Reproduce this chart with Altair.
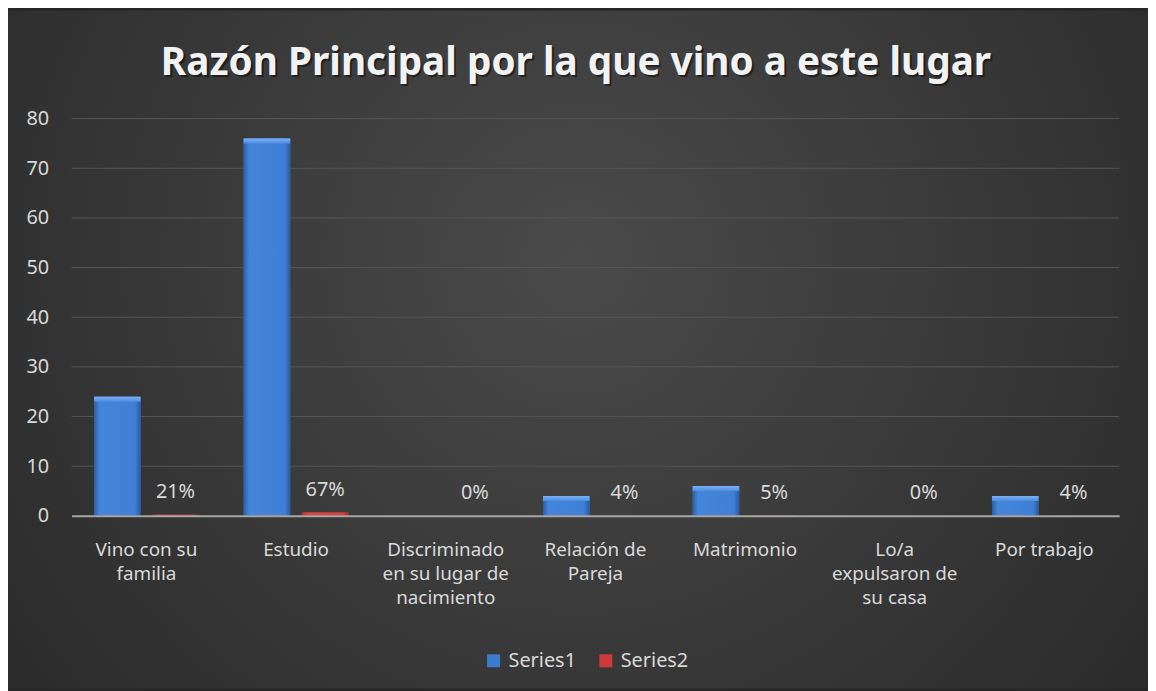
import altair as alt
import pandas as pd

# ---- data ----
categories = [
    "Vino con su\nfamilia",
    "Estudio",
    "Discriminado\nen su lugar de\nnacimiento",
    "Relación de\nPareja",
    "Matrimonio",
    "Lo/a\nexpulsaron de\nsu casa",
    "Por trabajo",
]
series_names = ["Series1", "Series2"]
series1 = [24, 76, 0, 4, 6, 0, 4]
series2 = [0.21, 0.67, 0, 0.04, 0.05, 0, 0.04]
y_ticks = [0, 10, 20, 30, 40, 50, 60, 70, 80]
grid_values = [10, 20, 30, 40, 50, 60, 70, 80]
title_text = "Razón Principal por la que vino a este  lugar"

rows = []
for c, v in zip(categories, series1):
    rows.append({"cat": c, "series": "Series1", "value": v})
for c, v in zip(categories, series2):
    rows.append({"cat": c, "series": "Series2", "value": v})
df = pd.DataFrame(rows)
grid_df = pd.DataFrame({"value": grid_values})
one = pd.DataFrame({"k": [0]})

W, H = 1055, 400
PAD = {"left": 64, "right": 29, "top": 109, "bottom": 174}
FONT = "Noto Sans"
TXT = "#d9d9d9"
FS = 20

x_scale = alt.Scale(domain=categories, paddingInner=0.3, paddingOuter=0.15)
off_scale = alt.Scale(domain=series_names, paddingInner=0.2)
y_scale = alt.Scale(domain=[0, 80])

x_axis = alt.Axis(
    title=None,
    labelAngle=0,
    ticks=False,
    domain=True,
    domainColor="#a6a6a6",
    domainWidth=2,
    labelColor=TXT,
    labelFont=FONT,
    labelFontSize=19,
    labelLineHeight=24,
    labelPadding=25,
    labelExpr="split(datum.value, '\\n')",
    labelLimit=200,
    grid=False,
    zindex=1,
)
y_axis = alt.Axis(
    title=None,
    values=y_ticks,
    domain=False,
    ticks=False,
    grid=False,
    labelColor=TXT,
    labelFont=FONT,
    labelFontSize=FS,
    labelPadding=23,
    zindex=1,
)
x_enc = alt.X("cat:N", scale=x_scale, sort=categories, axis=x_axis)
y_enc = alt.Y("value:Q", scale=y_scale, axis=y_axis)
off_enc = alt.XOffset("series:N", scale=off_scale)

bg_gradient = {
    "gradient": "radial",
    "x1": 0.5, "y1": 0.42, "x2": 0.5, "y2": 0.42,
    "r1": 0, "r2": 0.72,
    "stops": [
        {"offset": 0, "color": "#4a4a4a"},
        {"offset": 1, "color": "#262626"},
    ],
}
background = alt.Chart(one).mark_rect(fill=bg_gradient, clip=False).encode(
    x=alt.value(-PAD["left"]),
    x2=alt.value(W + PAD["right"]),
    y=alt.value(-PAD["top"]),
    y2=alt.value(H + PAD["bottom"]),
)

grid = alt.Chart(grid_df).mark_rule(color="#565656", strokeWidth=1).encode(
    y=y_enc,
    x=alt.value(0),
    x2=alt.value(W),
)

bars = alt.Chart(df).mark_bar().encode(
    x=x_enc,
    xOffset=off_enc,
    y=y_enc,
    color=alt.Color(
        "series:N",
        scale=alt.Scale(domain=series_names, range=["#3d7bd1", "#d0393a"]),
        legend=alt.Legend(
            title=None,
            orient="none",
            legendX=415,
            legendY=536,
            direction="horizontal",
            symbolType="square",
            symbolSize=170,
            symbolStrokeWidth=0,
            labelColor=TXT,
            labelFont=FONT,
            labelFontSize=FS,
            columnPadding=20,
            labelOffset=5,
        ),
    ),
)

blue_grad = {
    "gradient": "linear", "x1": 0, "y1": 0, "x2": 1, "y2": 0,
    "stops": [
        {"offset": 0, "color": "#2c5ea6"},
        {"offset": 0.12, "color": "#4385d9"},
        {"offset": 0.88, "color": "#3f80d6"},
        {"offset": 1, "color": "#2a5aa0"},
    ],
}
red_grad = {
    "gradient": "linear", "x1": 0, "y1": 0, "x2": 1, "y2": 0,
    "stops": [
        {"offset": 0, "color": "#a82e2e"},
        {"offset": 0.12, "color": "#dc4444"},
        {"offset": 0.88, "color": "#d84040"},
        {"offset": 1, "color": "#a02a2a"},
    ],
}

blue_bars = alt.Chart(df).transform_filter(alt.datum.series == "Series1").mark_bar(fill=blue_grad).encode(
    x=x_enc,
    xOffset=off_enc,
    y=y_enc,
)
red_bars = alt.Chart(df).transform_filter(alt.datum.series == "Series2").mark_bar(fill=red_grad).encode(
    x=x_enc,
    xOffset=off_enc,
    y=y_enc,
)

cap_grad = {
    "gradient": "linear", "x1": 0, "y1": 0, "x2": 0, "y2": 1,
    "stops": [
        {"offset": 0, "color": "#7ab2f2"},
        {"offset": 1, "color": "#4d8ee0"},
    ],
}
caps = alt.Chart(df).transform_filter(
    (alt.datum.series == "Series1") & (alt.datum.value > 0)
).mark_bar(fill=cap_grad, y2Offset=5).encode(
    x=x_enc,
    xOffset=off_enc,
    y=y_enc,
    y2=alt.Y2("value:Q"),
)

labels = alt.Chart(df).transform_filter(alt.datum.series == "Series2").mark_text(
    color=TXT, font=FONT, fontSize=FS, baseline="alphabetic", align="center", dy=-17
).encode(
    x=x_enc,
    xOffset=off_enc,
    y=y_enc,
    text=alt.Text("value:Q", format=".0%"),
)

title_shadow = alt.Chart(one).mark_text(
    font=FONT, fontSize=39, fontWeight="bold", color="#000000", opacity=0.45,
    align="center", baseline="alphabetic",
).encode(x=alt.value(510), y=alt.value(-42), text=alt.value(title_text))
title = alt.Chart(one).mark_text(
    font=FONT, fontSize=39, fontWeight="bold", color="#f2f2f2",
    align="center", baseline="alphabetic",
).encode(x=alt.value(508), y=alt.value(-44), text=alt.value(title_text))

chart = alt.layer(
    background, grid, bars, blue_bars, red_bars, caps, labels, title_shadow, title
).properties(
    width=W, height=H, padding=PAD, autosize=alt.AutoSizeParams(type="none")
).configure(background="#262626").configure_view(stroke=None)

chart.save("out.html", embed_options={"renderer": "svg", "actions": False})
